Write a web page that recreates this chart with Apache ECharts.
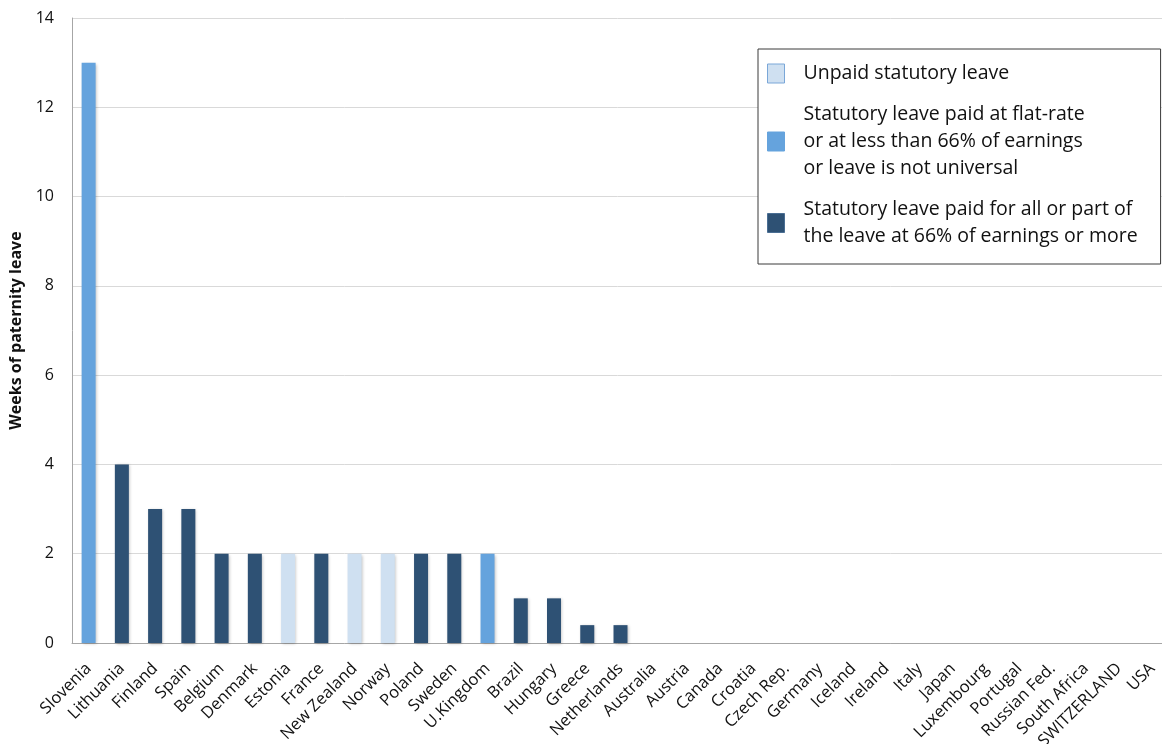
<!DOCTYPE html>
<html>
<head>
<meta charset="utf-8">
<script src="https://cdn.jsdelivr.net/npm/echarts@6/dist/echarts.min.js"></script>
<style>
  html, body { margin: 0; padding: 0; background: #fff; }
  #chart { width: 1162px; height: 744px; }
</style>
</head>
<body>
<div id="chart"></div>
<script>
// Countries, ordered as plotted
const countries = [
  'Slovenia', 'Lithuania', 'Finland', 'Spain', 'Belgium', 'Denmark', 'Estonia',
  'France', 'New Zealand', 'Norway', 'Poland', 'Sweden', 'U.Kingdom', 'Brazil',
  'Hungary', 'Greece', 'Netherlands', 'Australia', 'Austria', 'Canada', 'Croatia',
  'Czech Rep.', 'Germany', 'Iceland', 'Ireland', 'Italy', 'Japan', 'Luxembourg',
  'Portugal', 'Russian Fed.', 'South Africa', 'SWITZERLAND', 'USA'
];

// Weeks of statutory paternity leave per country
const weeks = [
  13, 4, 3, 3, 2, 2, 2,
  2, 2, 2, 2, 2, 2, 1,
  1, 0.4, 0.4, 0, 0, 0, 0,
  0, 0, 0, 0, 0, 0, 0,
  0, 0, 0, 0, 0
];

// Payment type per country: 'unpaid', 'flat', 'high'
const leaveType = [
  'flat', 'high', 'high', 'high', 'high', 'high', 'unpaid',
  'high', 'unpaid', 'unpaid', 'high', 'high', 'flat', 'high',
  'high', 'high', 'high', 'high', 'high', 'high', 'high',
  'high', 'high', 'high', 'high', 'high', 'high', 'high',
  'high', 'high', 'high', 'high', 'high'
];

// Legend entries
const groups = [
  { key: 'unpaid', name: 'Unpaid statutory leave', color: '#CFE0F1', border: '#7AA7D8' },
  { key: 'flat', name: 'Statutory leave paid at flat-rate\nor at less than 66% of earnings\nor leave is not universal', color: '#65A3DD', border: '#65A3DD' },
  { key: 'high', name: 'Statutory leave paid for all or part of\nthe leave at 66% of earnings or more', color: '#2E5174', border: '#4A6E93' }
];

const yTicks = { min: 0, max: 14, interval: 2 };

const FONT = '"Open Sans", "Noto Sans", sans-serif';

const series = groups.map(g => ({
  name: g.name,
  type: 'bar',
  barWidth: 14,
  barGap: '-100%',
  itemStyle: {
    color: g.color,
    shadowColor: 'rgba(0,0,0,0.25)',
    shadowBlur: 3,
    shadowOffsetX: 1,
    shadowOffsetY: 1
  },
  data: weeks.map((v, i) => (leaveType[i] === g.key && v > 0 ? v : null))
}));

const chart = echarts.init(document.getElementById('chart'));
chart.setOption({
  animation: false,
  backgroundColor: '#fff',
  grid: {
    left: 72, top: 18, right: -7, bottom: 101,
    containLabel: false,
    outerBoundsMode: 'none'
  },
  legend: {
    orient: 'vertical',
    left: 758,
    top: 49,
    padding: [11, 23, 14, 9],
    borderColor: '#3a3a3a',
    borderWidth: 1,
    backgroundColor: '#fff',
    itemWidth: 17,
    itemHeight: 19,
    itemGap: 14,
    icon: 'rect',
    selectedMode: false,
    textStyle: {
      fontFamily: FONT,
      fontSize: 19.5,
      lineHeight: 27,
      color: '#111',
      padding: [0, 0, 0, 14]
    },
    data: groups.map(g => ({
      name: g.name,
      itemStyle: { color: g.color, borderColor: g.border, borderWidth: 1 }
    }))
  },
  xAxis: {
    type: 'category',
    data: countries,
    axisLine: { lineStyle: { color: '#A6A6A6', width: 1 } },
    axisTick: { show: false },
    axisLabel: {
      interval: 0,
      rotate: 45,
      margin: 23,
      fontFamily: FONT,
      fontSize: 16.5,
      color: '#111'
    }
  },
  yAxis: {
    type: 'value',
    min: yTicks.min,
    max: yTicks.max,
    interval: yTicks.interval,
    name: 'Weeks of paternity leave',
    nameLocation: 'middle',
    nameGap: 39,
    nameTextStyle: { fontFamily: FONT, fontSize: 16, fontWeight: 'bold', color: '#111' },
    axisLine: { show: true, lineStyle: { color: '#A6A6A6', width: 1 } },
    axisTick: { show: false },
    axisLabel: { fontFamily: FONT, fontSize: 16, color: '#111', margin: 18 },
    splitLine: { lineStyle: { color: '#D9D9D9', width: 1 } }
  },
  series: series
});
</script>
</body>
</html>
